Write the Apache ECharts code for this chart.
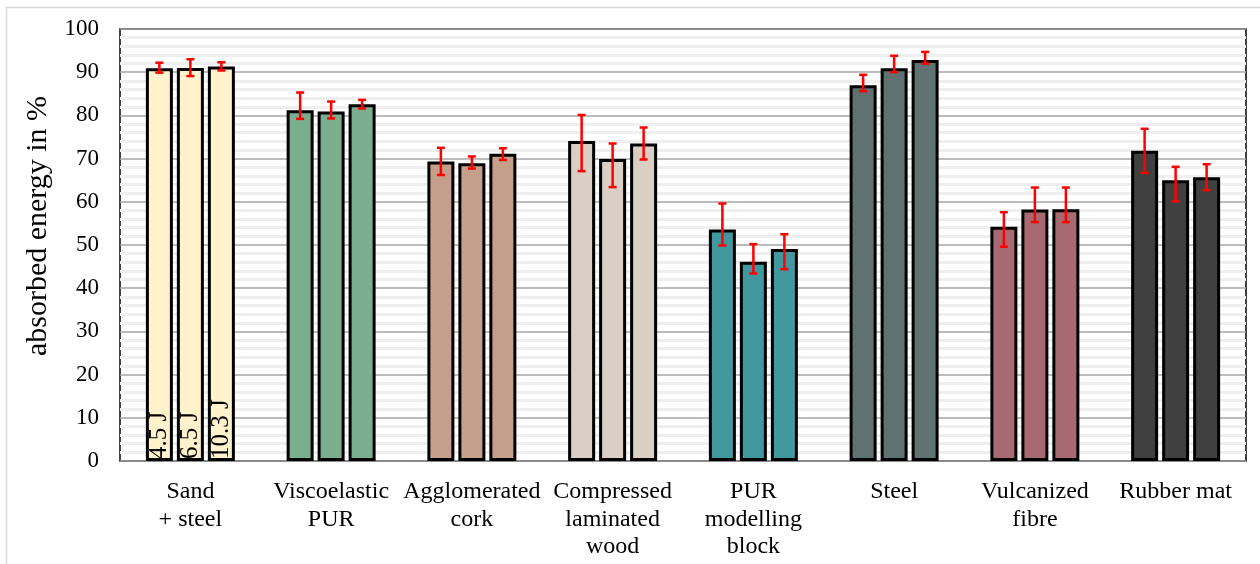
<!DOCTYPE html>
<html>
<head>
<meta charset="utf-8">
<script src="https://cdn.jsdelivr.net/npm/echarts@6/dist/echarts.min.js"></script>
<style>
  html, body { margin: 0; padding: 0; background: #fff; }
  #chart { width: 1260px; height: 564px; }
</style>
</head>
<body>
<div id="chart"></div>
<script>
// categories (materials)
const materials = ['Sand\n+ steel', 'Viscoelastic\nPUR', 'Agglomerated\ncork', 'Compressed\nlaminated\nwood',
  'PUR\nmodelling\nblock', 'Steel', 'Vulcanized\nfibre', 'Rubber mat'];
const energies = ['4.5 J', '6.5 J', '10.3 J'];

// absorbed energy in % for each impact energy
const e45 = [90.9, 81.2, 69.3, 74.1, 53.6, 87.0, 54.2, 71.8];
const e65 = [91.0, 80.9, 68.9, 69.9, 46.1, 90.9, 58.2, 65.0];
const e103 = [91.3, 82.6, 71.1, 73.5, 49.1, 92.8, 58.3, 65.7];

// error bar ends
const e45Low = [89.9, 79.2, 66.2, 67.1, 49.9, 85.6, 49.6, 66.7];
const e45High = [92.2, 85.3, 72.5, 80.1, 59.6, 89.4, 57.6, 76.9];
const e65Low = [89.1, 79.3, 67.7, 63.4, 43.4, 90.0, 55.3, 60.1];
const e65High = [93.0, 83.2, 70.5, 73.5, 50.2, 93.8, 63.3, 68.1];
const e103Low = [90.4, 81.6, 69.7, 69.8, 44.4, 92.0, 55.3, 62.7];
const e103High = [92.3, 83.6, 72.4, 77.2, 52.5, 94.7, 63.3, 68.7];

const colors = ['#fff2cc', '#7aae8e', '#c4a08b', '#d9cfc4', '#41999f', '#5f7170', '#a86a72', '#404040'];

const font = 'Liberation Serif';
const barW = 27;
const step = 31; // bar centre spacing

const values = [e45, e65, e103];
const lows = [e45Low, e65Low, e103Low];
const highs = [e45High, e65High, e103High];

const barSeries = values.map((vals, s) => ({
  name: energies[s],
  type: 'bar',
  data: vals,
  barWidth: barW,
  barGap: ((step - barW) / barW * 100).toFixed(1) + '%',
  itemStyle: {
    color: p => colors[p.dataIndex],
    borderColor: '#000',
    borderWidth: 3
  },
  label: {
    show: true,
    position: 'insideBottom',
    rotate: 90,
    align: 'left',
    verticalAlign: 'middle',
    distance: 2,
    fontFamily: font,
    fontSize: 25,
    color: '#000',
    formatter: p => p.dataIndex === 0 ? energies[s] : ''
  },
  z: 2
}));

const errSeries = values.map((vals, s) => ({
  type: 'custom',
  z: 5,
  data: vals.map((v, i) => [i, lows[s][i], highs[s][i]]),
  encode: { x: 0, y: [1, 2] },
  renderItem: (params, api) => {
    const lo = api.coord([api.value(0), api.value(1)]);
    const hi = api.coord([api.value(0), api.value(2)]);
    const x = lo[0] + (s - 1) * step;
    const cap = 4;
    const st = { stroke: '#ff0000', lineWidth: 2.5 };
    return {
      type: 'group',
      children: [
        { type: 'line', shape: { x1: x, y1: lo[1], x2: x, y2: hi[1] }, style: st },
        { type: 'line', shape: { x1: x - cap, y1: lo[1], x2: x + cap, y2: lo[1] }, style: st },
        { type: 'line', shape: { x1: x - cap, y1: hi[1], x2: x + cap, y2: hi[1] }, style: st }
      ]
    };
  }
}));

const chart = echarts.init(document.getElementById('chart'));
chart.setOption({
  animation: false,
  backgroundColor: '#fff',
  graphic: [{
    type: 'rect',
    shape: { x: 6.5, y: 7.5, width: 1300, height: 600 },
    style: { fill: 'none', stroke: '#d9d9d9', lineWidth: 1.5 },
    silent: true
  }],
  grid: {
    left: 120, right: 14, top: 29, bottom: 103,
    show: true, borderColor: '#000', borderWidth: 1.5,
    backgroundColor: 'transparent'
  },
  xAxis: {
    type: 'category',
    data: materials,
    axisLine: { show: false },
    axisTick: { show: false },
    axisLabel: {
      fontFamily: font, fontSize: 24, color: '#000',
      lineHeight: 27.5, margin: 17, interval: 0
    }
  },
  yAxis: {
    type: 'value',
    min: 0, max: 100, interval: 10,
    name: 'absorbed energy in %',
    nameLocation: 'middle',
    nameGap: 60,
    nameTextStyle: { fontFamily: font, fontSize: 30, color: '#000', padding: [0, 0, 0, 38] },
    axisLine: { show: false },
    axisTick: { show: false },
    axisLabel: { fontFamily: font, fontSize: 23, color: '#000', margin: 21 },
    splitLine: { lineStyle: { color: '#a6a6a6', width: 1.5 } },
    minorTick: { show: false, splitNumber: 5 },
    minorSplitLine: { show: true, lineStyle: { color: '#efefef', width: 3 } }
  },
  series: [...barSeries, ...errSeries]
});
</script>
</body>
</html>
